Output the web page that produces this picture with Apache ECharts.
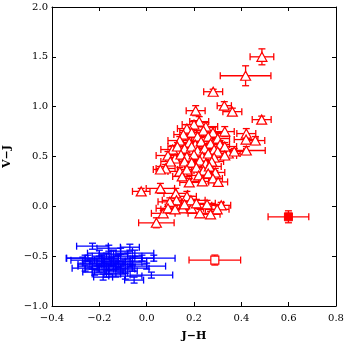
<!DOCTYPE html>
<html><head><meta charset="utf-8">
<script src="https://cdn.jsdelivr.net/npm/echarts@6/dist/echarts.min.js"></script>
<style>html,body{margin:0;padding:0;background:#fff}#c{width:347px;height:341px}</style>
</head><body><div id="c"></div>
<script>
// Red triangles: x, y, x error, y error
const triX = [0.487,0.418,0.281,0.328,0.362,0.207,0.486,0.222,0.20,0.25,0.17,0.19,0.24,0.28,0.33,0.155,0.215,0.26,0.30,0.421,0.42,0.459,0.421,0.345,0.37,0.14,0.18,0.205,0.23,0.27,0.31,0.33,0.11,0.13,0.16,0.19,0.215,0.245,0.285,0.30,0.09,0.12,0.145,0.17,0.20,0.235,0.26,0.285,0.33,0.10,0.16,0.19,0.225,0.25,0.275,0.08,0.058,0.14,0.17,0.21,0.24,0.265,0.29,0.15,0.22,0.26,0.28,0.18,0.302,0.235,-0.023,0.058,0.123,0.17,0.315,0.298,0.27,0.225,0.19,0.152,0.126,0.187,0.098,0.21,0.255,0.07,0.09,0.12,0.041,0.16];
const triY = [1.50,1.31,1.15,1.01,0.95,0.96,0.87,0.85,0.82,0.80,0.78,0.74,0.76,0.74,0.75,0.72,0.70,0.70,0.68,0.73,0.67,0.66,0.56,0.53,0.55,0.66,0.64,0.62,0.65,0.63,0.62,0.60,0.57,0.60,0.58,0.60,0.56,0.58,0.57,0.55,0.51,0.48,0.52,0.50,0.52,0.50,0.53,0.49,0.51,0.45,0.45,0.44,0.46,0.43,0.45,0.38,0.37,0.35,0.37,0.39,0.36,0.40,0.34,0.30,0.31,0.33,0.28,0.24,0.245,0.25,0.15,0.18,0.13,0.10,0.01,-0.03,-0.08,-0.07,-0.02,-0.02,0.06,0.06,0.045,0.03,0.02,-0.07,-0.02,-0.03,-0.165,0.02];
const triXErr = [0.05,0.107,0.04,0.03,0.04,0.04,0.04,0.04,0.05,0.05,0.04,0.05,0.04,0.05,0.04,0.04,0.05,0.04,0.05,0.04,0.05,0.04,0.08,0.05,0.04,0.05,0.04,0.05,0.04,0.05,0.04,0.05,0.05,0.04,0.05,0.04,0.05,0.04,0.05,0.04,0.05,0.04,0.05,0.04,0.05,0.04,0.05,0.04,0.05,0.04,0.05,0.04,0.05,0.04,0.05,0.04,0.03,0.05,0.04,0.05,0.04,0.05,0.04,0.04,0.05,0.04,0.04,0.04,0.04,0.05,0.037,0.06,0.05,0.04,0.04,0.05,0.04,0.05,0.05,0.05,0.06,0.06,0.05,0.08,0.07,0.05,0.05,0.06,0.075,0.05];
const triYErr = [0.08,0.10,0.025,0.04,0.035,0.05,0.035,0.05,0.04,0.04,0.04,0.05,0.04,0.05,0.05,0.04,0.04,0.04,0.05,0.05,0.04,0.04,0.04,0.04,0.03,0.04,0.05,0.04,0.04,0.04,0.04,0.04,0.04,0.04,0.05,0.04,0.04,0.04,0.05,0.04,0.04,0.04,0.04,0.04,0.05,0.04,0.04,0.04,0.04,0.04,0.04,0.04,0.04,0.04,0.04,0.04,0.03,0.04,0.04,0.04,0.04,0.05,0.04,0.04,0.04,0.04,0.04,0.04,0.03,0.04,0.03,0.05,0.05,0.05,0.03,0.04,0.03,0.04,0.04,0.04,0.04,0.04,0.04,0.04,0.04,0.03,0.04,0.04,0.05,0.04];

// Blue points
const bluX = [-0.229,-0.16,-0.071,-0.11,-0.20,-0.14,-0.248,-0.27,-0.19,-0.17,-0.12,-0.08,-0.02,-0.05,-0.15,-0.10,-0.21,-0.23,-0.18,-0.13,-0.07,-0.26,0.03,-0.26,-0.20,-0.16,-0.11,-0.06,0.0,-0.22,-0.17,-0.13,-0.09,0.02,-0.053,-0.184,-0.14,-0.12,-0.16,-0.10,-0.19,-0.06,-0.24];
const bluY = [-0.40,-0.42,-0.41,-0.45,-0.47,-0.48,-0.52,-0.54,-0.53,-0.50,-0.52,-0.50,-0.52,-0.47,-0.55,-0.56,-0.57,-0.60,-0.59,-0.60,-0.58,-0.52,-0.52,-0.62,-0.63,-0.64,-0.63,-0.62,-0.60,-0.66,-0.68,-0.67,-0.70,-0.69,-0.74,-0.71,-0.57,-0.58,-0.61,-0.65,-0.55,-0.55,-0.58];
const bluXErr = [0.067,0.05,0.04,0.05,0.05,0.06,0.09,0.05,0.07,0.06,0.07,0.06,0.05,0.08,0.06,0.08,0.06,0.06,0.05,0.07,0.07,0.08,0.09,0.055,0.06,0.07,0.06,0.07,0.08,0.05,0.06,0.05,0.07,0.09,0.04,0.04,0.05,0.06,0.05,0.06,0.05,0.06,0.05];
const bluYErr = [0.03,0.03,0.03,0.03,0.03,0.04,0.03,0.03,0.04,0.03,0.03,0.03,0.03,0.03,0.04,0.03,0.03,0.03,0.04,0.03,0.03,0.03,0.03,0.03,0.03,0.04,0.03,0.03,0.03,0.03,0.03,0.04,0.03,0.03,0.03,0.03,0.03,0.03,0.03,0.03,0.03,0.03,0.03];

// Open square and filled square
const openSqX = [0.288], openSqY = [-0.539], openSqXErr = [0.109], openSqYErr = [0.05];
const fillSqX = [0.599], fillSqY = [-0.105], fillSqXErr = [0.086], fillSqYErr = [0.06];

// Axis ticks
const xTicks = [-0.4,-0.2,0.0,0.2,0.4,0.6,0.8];
const yTicks = [-1.0,-0.5,0.0,0.5,1.0,1.5,2.0];

const RED = '#ff0000', BLUE = '#0000ff';
function rows(X,Y,EX,EY){ return X.map((x,i)=>[x,Y[i],EX[i],EY[i]]); }
const triData = rows(triX,triY,triXErr,triYErr);
const bluData = rows(bluX,bluY,bluXErr,bluYErr);
const openData = rows(openSqX,openSqY,openSqXErr,openSqYErr);
const fillData = rows(fillSqX,fillSqY,fillSqXErr,fillSqYErr);

function errSeries(data, color){
  return {
    type:'custom', data, z:2, silent:true,
    renderItem(params, api){
      const x=api.value(0), y=api.value(1), ex=api.value(2), ey=api.value(3);
      const L=api.coord([x-ex,y]), R=api.coord([x+ex,y]);
      const B=api.coord([x,y-ey]), T=api.coord([x,y+ey]);
      const c=3.5, st={stroke:color,lineWidth:1.3};
      const ln=(x1,y1,x2,y2)=>({type:'line',shape:{x1,y1,x2,y2},style:st});
      return {type:'group',children:[
        ln(L[0],L[1],R[0],R[1]), ln(B[0],B[1],T[0],T[1]),
        ln(L[0],L[1]-c,L[0],L[1]+c), ln(R[0],R[1]-c,R[0],R[1]+c),
        ln(B[0]-c,B[1],B[0]+c,B[1]), ln(T[0]-c,T[1],T[0]+c,T[1])
      ]};
    }
  };
}
const fmt = v => { const s = Number(v).toFixed(1); return s.replace('-', '\u2212'); };
const tickFont = {fontFamily:'DejaVu Serif', fontSize:10, color:'#000'};
const axisCommon = {
  axisLine:{show:true,onZero:false,lineStyle:{color:'#000',width:1}},
  axisTick:{show:true,inside:true,length:4,lineStyle:{color:'#000',width:1}},
  splitLine:{show:false}
};
const chart = echarts.init(document.getElementById('c'), null, {renderer:'canvas'});
chart.setOption({
  animation:false,
  backgroundColor:'#fff',
  grid:{left:52,right:11,top:7,bottom:35,containLabel:false,outerBoundsMode:'none'},
  xAxis:[
    Object.assign({type:'value',min:-0.4,max:0.8,interval:0.2,position:'bottom',
      name:'J\u2212H',nameLocation:'middle',nameGap:25,nameMoveOverlap:false,
      nameTextStyle:{fontFamily:'DejaVu Serif',fontSize:11,fontWeight:'bold',color:'#000'},
      axisLabel:Object.assign({margin:7,formatter:fmt,customValues:xTicks},tickFont)},axisCommon),
    Object.assign({type:'value',min:-0.4,max:0.8,interval:0.2,position:'top',axisLabel:{show:false}},axisCommon)
  ],
  yAxis:[
    Object.assign({type:'value',min:-1.0,max:2.0,interval:0.5,position:'left',
      name:'V\u2212J',nameLocation:'middle',nameGap:39,nameMoveOverlap:false,
      nameTextStyle:{fontFamily:'DejaVu Serif',fontSize:11,fontWeight:'bold',color:'#000'},
      axisLabel:Object.assign({margin:4,formatter:fmt,customValues:yTicks},tickFont)},axisCommon),
    Object.assign({type:'value',min:-1.0,max:2.0,interval:0.5,position:'right',axisLabel:{show:false}},axisCommon)
  ],
  series:[
    errSeries(bluData, BLUE),
    errSeries(triData, RED),
    errSeries(openData, RED),
    errSeries(fillData, RED),
    {type:'scatter',data:triData.map(d=>[d[0],d[1]]),symbol:'triangle',symbolSize:[10,9],z:3,
      itemStyle:{color:'#fff',borderColor:RED,borderWidth:1.2,opacity:1}},
    {type:'scatter',data:openData.map(d=>[d[0],d[1]]),symbol:'rect',symbolSize:8,z:3,
      itemStyle:{color:'#fff',borderColor:RED,borderWidth:1.2,opacity:1}},
    {type:'scatter',data:fillData.map(d=>[d[0],d[1]]),symbol:'rect',symbolSize:8,z:3,
      itemStyle:{color:RED,borderColor:RED,borderWidth:1,opacity:1}}
  ]
});
</script></body></html>
